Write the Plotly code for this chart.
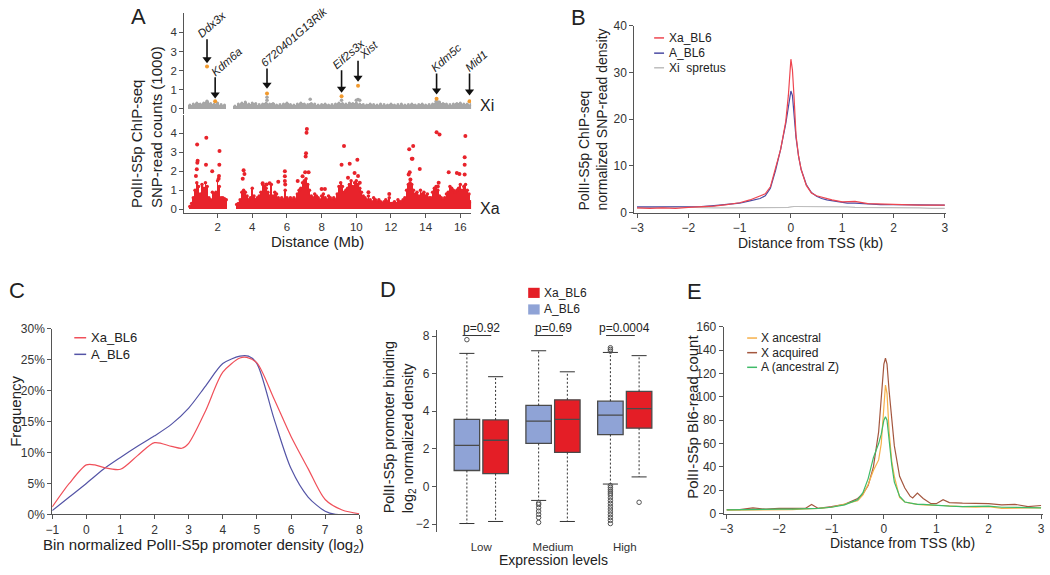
import plotly.graph_objects as go

W, H = 1050, 575
FONT = "Liberation Sans, Arial, sans-serif"

# ======================= DATA =======================
# ---- Panel A: PolII-S5p SNP-read counts (x1000) along chrX ----
XA_START, XA_STEP = 0.4, 0.1          # Xa dense band, one value per 0.1 Mb bin
xa_band = [
    0.15, 0.3, 0.6, 1.0, 1.4, 1.2, 0.8, 1.3, 1.1, 1.4,
    1.2, 0.6, 0.5, 0.9, 0.8, 0.9, 1.5, 1.2, 0.6, 0.6,
    0.55, 0.5, 0, 0, 0, 0, 0, 0.25, 0.3, 0.5,
    0.9, 1.0, 0.9, 0.7, 0.5, 0.6, 1.1, 0.7, 0.5, 0.6,
    0.7, 0.9, 1.3, 1.2, 1.1, 0.9, 0.7, 1.3, 0.7, 0.9,
    0.8, 0.6, 0.5, 0.6, 0.5, 1.0, 0.6, 0.5, 0.6, 0.5,
    0.6, 0.5, 0.8, 1.0, 1.1, 1.4, 1.5, 1.6, 1.3, 1.0,
    0.7, 0.6, 0.8, 0.7, 0.6, 0.5, 0.7, 0.8, 0.6, 0.5,
    0.7, 0.6, 0.5, 0.6, 0.5, 0.8, 1.2, 1.4, 1.2, 0.9,
    1.0, 1.1, 1.3, 1.5, 1.2, 1.4, 1.5, 1.3, 1.1, 0.9,
    0.7, 0.6, 0.5, 0.7, 0.5, 0.4, 0.6, 0.5, 0.4, 0.5,
    0.4, 0.3, 0.4, 0.5, 0.4, 0.6, 0.3, 0.3, 0.4, 0.3,
    0.5, 0.4, 0.4, 0.5, 0.6, 1.0, 1.3, 1.4, 1.3, 1.0,
    0.8, 0.9, 0.7, 1.0, 0.8, 0.9, 0.7, 0.8, 0.6, 0.6,
    0.9, 1.1, 1.2, 1.0, 0.7, 0.6, 0.5, 0.6, 0.8, 0.9,
    1.2, 1.1, 1.0, 0.9, 1.0, 1.1, 1.3, 1.0, 1.2, 1.3,
    1.0, 0.8, 0.4,
]
xa_peak_mb = [0.82, 0.85, 0.83, 0.80, 0.75, 1.35, 1.33, 1.69, 2.11, 2.10, 2.08, 2.06,
              3.50, 3.55, 3.45, 4.60, 4.82, 5.00, 5.50, 5.88, 5.88, 5.88, 5.90, 6.62,
              6.90, 7.15, 7.13, 7.10, 7.08, 7.05, 7.25, 8.00, 8.19, 9.15, 9.29, 9.62,
              9.52, 9.90, 10.06, 10.10, 10.20, 10.70, 11.90, 13.05, 13.28, 13.20, 13.24,
              13.02, 13.12, 13.08, 13.66, 14.63, 14.80, 14.75, 14.70, 15.33, 15.80,
              15.95, 16.29, 16.25, 16.25, 16.25]
xa_peak_val = [3.40, 2.55, 2.45, 2.10, 1.75, 3.76, 2.34, 2.00, 3.06, 2.34, 1.75, 1.60,
               2.05, 1.85, 1.60, 1.37, 1.30, 1.37, 1.44, 2.00, 1.74, 1.49, 1.30, 1.49,
               1.74, 4.22, 4.02, 2.94, 2.77, 1.95, 1.95, 1.06, 1.06, 2.34, 3.32, 2.39,
               1.66, 1.91, 2.60, 1.75, 1.40, 0.89, 0.80, 3.15, 3.32, 2.65, 2.65,
               1.83, 1.57, 1.95, 2.12, 4.05, 3.93, 1.40, 1.20, 1.95, 1.91,
               1.85, 3.85, 2.74, 2.34, 1.83]

XI_START, XI_STEP = 0.4, 0.2          # Xi (spretus) band, one value per 0.2 Mb bin
xi_band = [
    0.20, 0.25, 0.30, 0.25, 0.30, 0.35, 0.28, 0.25, 0.30, 0.22,
    0.20, 0, 0, 0.15, 0.25, 0.30, 0.35, 0.25, 0.30, 0.28,
    0.22, 0.25, 0.30, 0.25, 0.28, 0.20, 0.22, 0.25, 0.30, 0.22,
    0.20, 0.25, 0.30, 0.25, 0.22, 0.28, 0.25, 0.20, 0.22, 0.25,
    0.20, 0.22, 0.25, 0.30, 0.28, 0.25, 0.30, 0.28, 0.30, 0.25,
    0.22, 0.20, 0.25, 0.22, 0.20, 0.25, 0.22, 0.20, 0.25, 0.20,
    0.22, 0.25, 0.20, 0.22, 0.25, 0.20, 0.22, 0.25, 0.20, 0.22,
    0.25, 0.30, 0.35, 0.28, 0.25, 0.22, 0.25, 0.28, 0.30, 0.25,
    0.25, 0.22,
]
xi_extra_mb = [1.39, 4.85, 4.85, 7.34, 9.15, 10.00, 10.10, 10.20, 14.60, 14.70]
xi_extra_val = [0.39, 0.60, 0.45, 0.50, 0.45, 0.45, 0.48, 0.45, 0.38, 0.35]

genes = ["Ddx3x", "Kdm6a", "6720401G13Rik", "Eif2s3x", "Xist", "Kdm5c", "Mid1"]
gene_mb = [1.39, 1.86, 4.85, 9.15, 10.10, 14.63, 16.53]
gene_val = [2.21, 0.39, 0.80, 0.65, 1.21, 0.53, 0.39]
arrow_tip = [2.42, 0.58, 1.09, 0.88, 1.45, 0.78, 0.73]
arrow_tail = [3.64, 1.65, 2.11, 2.01, 2.52, 1.85, 1.85]

# ---- Panel B: metagene around TSS ----
b_kb = [-3, -2.75, -2.5, -2.25, -2, -1.75, -1.5, -1.25, -1, -0.8, -0.6, -0.5, -0.4, -0.3,
        -0.2, -0.1, -0.05, 0, 0.03, 0.06, 0.1, 0.15, 0.2, 0.3, 0.4, 0.5, 0.6, 0.7, 0.8,
        1.0, 1.1, 1.25, 1.5, 1.75, 2.0, 2.25, 2.5, 2.75, 3.0]
b_xa = [1.0, 0.9, 1.0, 0.9, 1.1, 1.2, 1.4, 1.7, 2.1, 2.7, 3.6, 4.0, 5.5, 9.5,
        13.5, 19.5, 25.0, 32.8, 30.5, 25.0, 16.5, 12.0, 9.2, 5.8, 4.2, 3.6, 3.3, 3.1, 2.7,
        2.3, 2.4, 2.4, 1.9, 1.8, 1.8, 1.6, 1.6, 1.6, 1.6]
b_a = [1.2, 1.2, 1.2, 1.2, 1.2, 1.3, 1.5, 1.7, 2.0, 2.5, 3.0, 3.6, 5.2, 9.0,
       13.5, 19.0, 22.5, 26.0, 25.0, 21.5, 16.0, 12.0, 9.2, 6.0, 4.3, 3.5, 3.0, 2.7, 2.5,
       2.1, 2.0, 2.0, 1.8, 1.7, 1.7, 1.7, 1.7, 1.6, 1.6]
b_xi = [1.0, 1.0, 1.1, 1.2, 1.1, 1.1, 1.0, 1.0, 1.0, 1.0, 1.0, 1.0, 1.0, 1.1,
        1.1, 1.0, 1.1, 1.2, 1.3, 1.3, 1.3, 1.3, 1.3, 1.3, 1.3, 1.2, 1.2, 1.2, 1.2,
        1.2, 1.2, 1.1, 1.1, 1.0, 1.0, 1.0, 1.0, 0.9, 0.9]

# ---- Panel C: frequency distributions (%) ----
c_xa_x = [-1, -0.5, 0, 0.25, 0.5, 1.0, 1.5, 2.0, 2.5, 2.8, 3.0, 3.5, 4.0, 4.5, 4.7,
          5.0, 5.5, 6.0, 6.5, 7.0, 7.5, 8.0]
c_xa_y = [1.2, 5.0, 8.0, 8.0, 7.6, 7.3, 9.5, 11.6, 11.0, 10.7, 11.5, 16.8, 23.0, 25.3, 25.4,
          24.5, 18.7, 12.6, 7.4, 2.4, 0.7, 0.1]
c_a_x = [-1, -0.5, 0, 0.5, 1.0, 1.5, 2.0, 2.5, 3.0, 3.5, 4.0, 4.5, 4.75, 5.0, 5.5, 6.0,
         6.5, 7.0, 7.3, 8.0]
c_a_y = [0.6, 2.8, 5.0, 7.3, 9.2, 11.0, 12.7, 14.6, 17.2, 20.8, 24.4, 25.6, 25.6, 24.4, 15.5,
         7.4, 2.8, 0.5, 0.0, 0.0]
c_ticks = [0, 5, 10, 15, 20, 25, 30]

# ---- Panel D: box plot statistics ----
d_groups = ["Low", "Medium", "High"]
d_a_q1 = [0.85, 2.29, 2.76]
d_a_med = [2.19, 3.48, 3.80]
d_a_q3 = [3.57, 4.31, 4.54]
d_a_lo = [-1.97, -0.74, 0.13]
d_a_hi = [7.08, 7.22, 7.13]
d_xa_q1 = [0.68, 1.81, 3.10]
d_xa_med = [2.46, 3.57, 4.14]
d_xa_q3 = [3.54, 4.61, 5.06]
d_xa_lo = [-1.86, -1.86, 0.51]
d_xa_hi = [5.84, 6.10, 6.96]
d_a_out = [[7.81],
           [-0.88, -0.96, -1.13, -1.31, -1.48, -1.65, -1.91],
           [7.38, 7.29, 7.20, 0.05, -0.05, -0.15, -0.25, -0.35, -0.45, -0.60, -0.75,
            -0.90, -1.05, -1.20, -1.35, -1.50, -1.65, -1.80, -1.97]]
d_xa_out = [[], [], [-0.84]]
d_pvals = ["p=0.92", "p=0.69", "p=0.0004"]

# ---- Panel E: Bl6 read counts around TSS ----
e_kb = [-3, -2.75, -2.5, -2.25, -2, -1.75, -1.5, -1.38, -1.25, -1, -0.75, -0.5, -0.4, -0.3,
        -0.2, -0.1, -0.05, 0, 0.03, 0.06, 0.1, 0.15, 0.2, 0.3, 0.4, 0.5, 0.55, 0.64, 0.75,
        0.9, 1.0, 1.13, 1.25, 1.5, 1.75, 2.0, 2.25, 2.5, 2.75, 3.0]
e_anc = [3.0, 3.0, 3.5, 3.5, 3.5, 3.5, 4.0, 4.0, 4.5, 5.5, 8.0, 11.0, 16.0, 25.0,
         37.0, 46.0, 60.0, 95.0, 110.0, 103.0, 70.0, 45.0, 32.0, 14.0, 10.0, 9.0, 8.5, 8.0, 7.5,
         7.0, 7.0, 7.0, 6.5, 6.0, 5.5, 6.0, 4.5, 5.0, 5.0, 5.0]
e_acq = [3.5, 3.5, 5.0, 3.8, 4.5, 4.2, 4.5, 7.8, 4.5, 6.0, 8.0, 13.0, 17.0, 24.0,
         40.0, 70.0, 100.0, 128.0, 133.0, 128.0, 105.0, 78.0, 58.0, 32.0, 22.0, 15.0, 13.4, 17.6, 13.0,
         8.5, 8.5, 12.0, 9.5, 9.0, 9.0, 8.5, 7.5, 8.0, 6.0, 7.0]
e_auto = [3.2, 3.5, 3.6, 3.6, 3.8, 3.8, 4.0, 4.2, 4.5, 5.5, 7.5, 12.0, 18.0, 30.0,
          48.0, 60.0, 68.0, 80.0, 83.0, 80.0, 62.0, 42.0, 27.0, 15.0, 10.0, 9.0, 8.5, 8.0, 8.0,
          7.5, 7.0, 7.0, 6.5, 6.0, 6.0, 6.5, 5.5, 5.5, 5.0, 5.0]

# ======================= STYLE =======================
RED_A = "#e8232b"
GRAY_A = "#a6a6a6"
ORANGE_A = "#f29a2e"
B_RED, B_BLUE, B_GRAY = "#ee4650", "#4b4ba3", "#bdbdbd"
C_RED, C_BLUE = "#f0505a", "#5454a6"
D_RED, D_BLUE = "#e41e26", "#8fa3d6"
E_ORANGE, E_BROWN, E_GREEN = "#f6b04a", "#a4573f", "#3fbb68"
AXC = "#555555"
TXT = "#222222"
HEAD_OFFSET = 0.17   # arrow-head marker centre sits this far above the arrow tip (Xi units)


def fx(p):
    return p / W


def fy(p):
    return 1 - p / H


fig = go.Figure()
shapes = []
ann = []

# ---------------- Panel A ----------------
xi_x = [round(XI_START + XI_STEP * i, 2) for i in range(len(xi_band))]
xa_x = [round(XA_START + XA_STEP * i, 2) for i in range(len(xa_band))]

fig.add_trace(go.Bar(x=xi_x, y=xi_band, width=XI_STEP, marker=dict(color=GRAY_A, line_width=0),
                     xaxis="x", yaxis="y", hoverinfo="skip"))
fig.add_trace(go.Scatter(x=[x for x, v in zip(xi_x, xi_band) if v > 0],
                         y=[v for v in xi_band if v > 0], mode="markers",
                         marker=dict(color=GRAY_A, size=3), xaxis="x", yaxis="y", hoverinfo="skip"))
fig.add_trace(go.Scatter(x=xi_extra_mb, y=xi_extra_val, mode="markers",
                         marker=dict(color=GRAY_A, size=3.5), xaxis="x", yaxis="y", hoverinfo="skip"))
fig.add_trace(go.Scatter(x=gene_mb, y=gene_val, mode="markers",
                         marker=dict(color=ORANGE_A, size=4), xaxis="x", yaxis="y", hoverinfo="skip"))

# gene arrows: shaft as shapes, head as triangle markers
for xm, tip, tail in zip(gene_mb, arrow_tip, arrow_tail):
    shapes.append(dict(type="line", xref="x", yref="y", x0=xm, x1=xm, y0=tail, y1=tip + HEAD_OFFSET,
                       line=dict(color="#111", width=1.6)))
fig.add_trace(go.Scatter(x=gene_mb, y=[t + HEAD_OFFSET for t in arrow_tip], mode="markers",
                         marker=dict(symbol="triangle-down", size=8, color="#111", line_width=0),
                         xaxis="x", yaxis="y", hoverinfo="skip", cliponaxis=False))

fig.add_trace(go.Bar(x=xa_x, y=xa_band, width=XA_STEP, marker=dict(color=RED_A, line_width=0),
                     xaxis="x2", yaxis="y2", hoverinfo="skip"))
fig.add_trace(go.Scatter(x=[x for x, v in zip(xa_x, xa_band) if v > 0],
                         y=[v for v in xa_band if v > 0], mode="markers",
                         marker=dict(color=RED_A, size=3.5), xaxis="x2", yaxis="y2", hoverinfo="skip"))
fig.add_trace(go.Scatter(x=xa_peak_mb, y=xa_peak_val, mode="markers",
                         marker=dict(color=RED_A, size=4), xaxis="x2", yaxis="y2", hoverinfo="skip"))

# ---------------- Panel B ----------------
for ys, col in [(b_xi, B_GRAY), (b_a, B_BLUE), (b_xa, B_RED)]:
    fig.add_trace(go.Scatter(x=b_kb, y=ys, mode="lines", line=dict(color=col, width=1.2),
                             xaxis="x3", yaxis="y3", hoverinfo="skip"))

# ---------------- Panel C ----------------
fig.add_trace(go.Scatter(x=c_a_x, y=c_a_y, mode="lines",
                         line=dict(color=C_BLUE, width=1.2, shape="spline", smoothing=0.8),
                         xaxis="x4", yaxis="y4", hoverinfo="skip"))
fig.add_trace(go.Scatter(x=c_xa_x, y=c_xa_y, mode="lines",
                         line=dict(color=C_RED, width=1.2, shape="spline", smoothing=0.8),
                         xaxis="x4", yaxis="y4", hoverinfo="skip"))

# ---------------- Panel D ----------------
OFF = 0.2
BOXW = 0.355
CAPW = 0.105
series_d = [
    (-OFF, d_a_q1, d_a_med, d_a_q3, d_a_lo, d_a_hi, d_a_out, D_BLUE),
    (OFF, d_xa_q1, d_xa_med, d_xa_q3, d_xa_lo, d_xa_hi, d_xa_out, D_RED),
]
for off, q1, med, q3, lo, hi, outs, col in series_d:
    xs = [i + off for i in range(len(d_groups))]
    wx, wy, cx, cy = [], [], [], []
    for xc, a, b, c, d in zip(xs, q1, q3, lo, hi):
        wx += [xc, xc, None, xc, xc, None]
        wy += [b, d, None, a, c, None]
        cx += [xc - CAPW, xc + CAPW, None, xc - CAPW, xc + CAPW, None]
        cy += [d, d, None, c, c, None]
    fig.add_trace(go.Scatter(x=wx, y=wy, mode="lines", line=dict(color="#333", width=1, dash="2px,2px"),
                             xaxis="x5", yaxis="y5", hoverinfo="skip"))
    fig.add_trace(go.Scatter(x=cx, y=cy, mode="lines", line=dict(color="#333", width=1),
                             xaxis="x5", yaxis="y5", hoverinfo="skip"))
    fig.add_trace(go.Box(x=xs, q1=q1, median=med, q3=q3, lowerfence=q1, upperfence=q3,
                         width=BOXW, fillcolor=col, line=dict(color="#4a4a4a", width=1.3),
                         boxpoints=False, xaxis="x5", yaxis="y5", hoverinfo="skip"))
    ox, oy = [], []
    for xc, vals in zip(xs, outs):
        ox += [xc] * len(vals)
        oy += vals
    fig.add_trace(go.Scatter(x=ox, y=oy, mode="markers",
                             marker=dict(symbol="circle-open", color="#555", size=4.5, line=dict(width=1)),
                             xaxis="x5", yaxis="y5", hoverinfo="skip"))

# ---------------- Panel E ----------------
for ys, col in [(e_acq, E_BROWN), (e_anc, E_ORANGE), (e_auto, E_GREEN)]:
    fig.add_trace(go.Scatter(x=e_kb, y=ys, mode="lines", line=dict(color=col, width=1.2),
                             xaxis="x6", yaxis="y6", hoverinfo="skip"))

# ======================= AXES =======================
base = dict(showgrid=False, zeroline=False, showline=True, linecolor=AXC, linewidth=1,
            ticks="outside", ticklen=4, tickwidth=1, tickcolor=AXC, ticklabeloverflow="allow",
            tickfont=dict(size=12, color="#333", family=FONT), fixedrange=True)
small = dict(size=11.5, color="#333", family=FONT)

A_X = [fx(179), fx(469)]
fig.update_layout(
    xaxis=dict(domain=A_X, range=[0.07, 16.62], visible=False, anchor="y", fixedrange=True),
    yaxis=dict(base, domain=[fy(110), fy(6)], range=[-0.291, 5.022], tickvals=[0, 1, 2, 3, 4],
               anchor="x", tickfont=small),
    xaxis2=dict(base, domain=A_X, range=[0.07, 16.62], tickvals=[2, 4, 6, 8, 10, 12, 14, 16],
                anchor="y2", tickfont=small),
    yaxis2=dict(base, domain=[fy(210.7), fy(111)], range=[-0.174, 4.939], tickvals=[0, 1, 2, 3, 4],
                anchor="x2", tickfont=small),
    xaxis3=dict(base, domain=[fx(634), fx(949)], range=[-3.052, 3.025],
                tickvals=[-3, -2, -1, 0, 1, 2, 3], anchor="y3"),
    yaxis3=dict(base, domain=[fy(210.7), fy(19)], range=[0, 40], tickvals=[0, 10, 20, 30, 40], anchor="x3"),
    xaxis4=dict(base, domain=[fx(45.7), fx(356)], range=[-1, 8], tickvals=list(range(-1, 9)), anchor="y4"),
    yaxis4=dict(base, domain=[fy(520), fy(330)], range=[0, 30], tickvals=c_ticks,
                ticktext=[f"{v}%" for v in c_ticks], anchor="x4"),
    xaxis5=dict(base, domain=[fx(434.3), fx(662)], range=[-0.62, 2.52], showline=False,
                tickvals=list(range(len(d_groups))), ticktext=d_groups, ticks="", ticklabelstandoff=7,
                anchor="y5", tickfont=small),
    yaxis5=dict(base, domain=[fy(538), fy(331)], range=[-2.415, 8.327], tickvals=[-2, 0, 2, 4, 6, 8],
                anchor="x5"),
    xaxis6=dict(base, domain=[fx(724.3), fx(1046.7)], range=[-3.057, 3.032],
                tickvals=[-3, -2, -1, 0, 1, 2, 3], anchor="y6"),
    yaxis6=dict(base, domain=[fy(519.3), fy(327.7)], range=[0, 160],
                tickvals=[0, 20, 40, 60, 80, 100, 120, 140, 160], anchor="x6"),
)

# ======================= ANNOTATIONS =======================


def text(xp, yp, s, size, xanchor="center", angle=0, color=TXT, align="center"):
    ann.append(dict(xref="paper", yref="paper", x=fx(xp), y=fy(yp), text=s, showarrow=False,
                    xanchor=xanchor, yanchor="middle", textangle=angle, align=align,
                    font=dict(size=size, color=color, family=FONT)))


# Panel letters
for lab, xp, yp in [("A", 133, 10), ("B", 578, 11), ("C", 10, 291), ("D", 385, 290), ("E", 695, 292)]:
    text(xp, yp, lab, 22)

# Panel A texts
text(141, 123.5, "PolII-S5p ChIP-seq<br>SNP-read counts (1000)", 15, angle=-90, align="left")
text(313.5, 240.5, "Distance (Mb)", 15)
text(476, 100.5, "Xi", 16, xanchor="left")
text(476, 207, "Xa", 16, xanchor="left")

label_dx = [-13, -8, -10, -13, -3, -10, -8]
for g, xm, tail, dx in zip(genes, gene_mb, arrow_tail, label_dx):
    ann.append(dict(xref="x", yref="y", x=xm, y=tail, text="<i>" + g + "</i>", showarrow=False,
                    xanchor="left", yanchor="bottom", textangle=-41, xshift=dx, yshift=-2,
                    borderpad=0, font=dict(size=11.5, color=TXT, family=FONT)))

# Panel B texts
text(592.5, 115, "PolII-S5p ChIP-seq<br>normalized SNP-read density", 14, angle=-90, align="left")
text(812.5, 241.7, "Distance from TSS (kb)", 14)
for name, col, yp in [("Xa_BL6", B_RED, 31.7), ("A_BL6", B_BLUE, 47.3), ("Xi&nbsp; spretus", B_GRAY, 62.3)]:
    shapes.append(dict(type="line", xref="paper", yref="paper", x0=fx(654), x1=fx(664), y0=fy(yp), y1=fy(yp),
                       line=dict(color=col, width=1.5)))
    text(666.5, yp, name, 12, xanchor="left")

# Panel C texts
text(9, 414, "Frequency", 15, angle=-90)
text(199, 551.5, "Bin normalized PolII-S5p promoter density (log<sub>2</sub>)", 15)
for name, col, yp in [("Xa_BL6", C_RED, 339), ("A_BL6", C_BLUE, 356)]:
    shapes.append(dict(type="line", xref="paper", yref="paper", x0=fx(68), x1=fx(80), y0=fy(yp), y1=fy(yp),
                       line=dict(color=col, width=1.5)))
    text(83, yp, name, 13, xanchor="left")

# Panel D texts
text(397, 430, "PolII-S5p promoter binding<br>log<sub>2</sub> normalized density", 14.5, angle=-90, align="left")
text(552.7, 567, "Expression levels", 14)
for name, col, yp in [("Xa_BL6", D_RED, 293), ("A_BL6", D_BLUE, 310)]:
    shapes.append(dict(type="rect", xref="paper", yref="paper", x0=fx(526.7), x1=fx(538.3),
                       y0=fy(yp + 5.2), y1=fy(yp - 5.2), fillcolor=col, line=dict(width=0)))
    text(540.5, yp, name, 12, xanchor="left")
for i, p in enumerate(d_pvals):
    ann.append(dict(xref="x5", yref="y5 domain", x=i, y=1.008, text=p, showarrow=False,
                    xanchor="center", yanchor="middle", font=dict(size=12, color=TXT, family=FONT)))
    shapes.append(dict(type="line", xref="x5", yref="y5", x0=i - 0.26, x1=i + 0.14, y0=8.03, y1=8.03,
                       line=dict(color="#333", width=1)))

# Panel E texts
text(693.3, 420, "PolII-S5p Bl6-read count", 15, angle=-90)
text(905, 549.5, "Distance from TSS (kb)", 14)
for name, col, yp in [("X ancestral", E_ORANGE, 339.3), ("X acquired", E_BROWN, 354.3),
                      ("A (ancestral Z)", E_GREEN, 369.3)]:
    shapes.append(dict(type="line", xref="paper", yref="paper", x0=fx(748), x1=fx(758), y0=fy(yp), y1=fy(yp),
                       line=dict(color=col, width=1.5)))
    text(760, yp, name, 12, xanchor="left")

fig.update_layout(
    width=W, height=H, margin=dict(l=0, r=0, t=0, b=0),
    paper_bgcolor="white", plot_bgcolor="white",
    showlegend=False, barmode="overlay", bargap=0,
    font=dict(family=FONT, color=TXT),
    annotations=ann, shapes=shapes,
)

fig.write_html("out.html", config={"displayModeBar": False, "staticPlot": True},
               post_script="document.body.style.margin='0';document.body.style.overflow='hidden';")
